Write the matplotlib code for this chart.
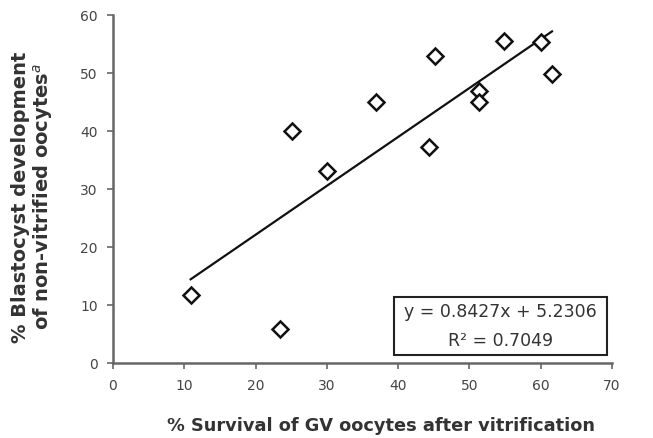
import matplotlib
matplotlib.use("Agg")
import matplotlib.pyplot as plt
from matplotlib.patches import Rectangle
import numpy as np

plt.rcParams['font.family'] = ['DejaVu Sans']

survival = [10.9, 23.4, 25.1, 30.0, 36.9, 44.4, 45.2, 51.3, 51.3, 54.9, 60.1, 61.6]
blasto = [11.7, 5.9, 39.9, 33.0, 44.9, 37.2, 52.9, 46.8, 44.9, 55.4, 55.3, 49.8]
slope = 0.8427
intercept = 5.2306
r2 = 0.7049

fig = plt.figure(figsize=(6.53, 4.39), dpi=100)
ax = fig.add_axes([0.173, 0.171, 0.764, 0.793])

xs = np.array([min(survival), max(survival)])
ax.plot(xs, slope*xs + intercept, color="#111111", lw=1.6)
ax.plot(survival, blasto, "D", ms=8.5, mfc="white", mec="#111111", mew=1.8, ls="none")

ax.set_xlim(0, 70)
ax.set_ylim(0, 60)
ax.set_xticks(range(0, 71, 10))
ax.set_yticks(range(0, 61, 10))
for s in ["top", "right"]:
    ax.spines[s].set_visible(False)
for s in ["left", "bottom"]:
    ax.spines[s].set_color("#666666")
    ax.spines[s].set_linewidth(1.8)
ax.tick_params(direction="out", length=4, width=1.2, color="#666666",
               labelsize=10, labelcolor="#444444", pad=7)

# equation box
ax.add_patch(Rectangle((39.45, 1.4), 29.85, 10.0, fill=True, fc="white",
                       ec="#222222", lw=1.5, clip_on=False, zorder=3))
ax.text(54.4, 9.0, "y = %.4fx + %.4f" % (slope, intercept),
        ha="center", va="center", fontsize=12.5, color="#333333", zorder=4)
ax.text(54.4, 3.9, "R\u00b2 = %.4f" % r2,
        ha="center", va="center", fontsize=12.5, color="#333333", zorder=4)

ax.set_xlabel("% Survival of GV oocytes after vitrification", fontsize=12.8,
              fontweight="bold", color="#333333")
ax.xaxis.set_label_coords(0.537, -0.152)
ax.set_ylabel("% Blastocyst development\nof non-vitrified oocytes$^a$", fontsize=14,
              fontweight="bold", color="#333333", linespacing=1.05)
ax.yaxis.set_label_coords(-0.116, 0.48)

fig.savefig("out.png", dpi=100)
